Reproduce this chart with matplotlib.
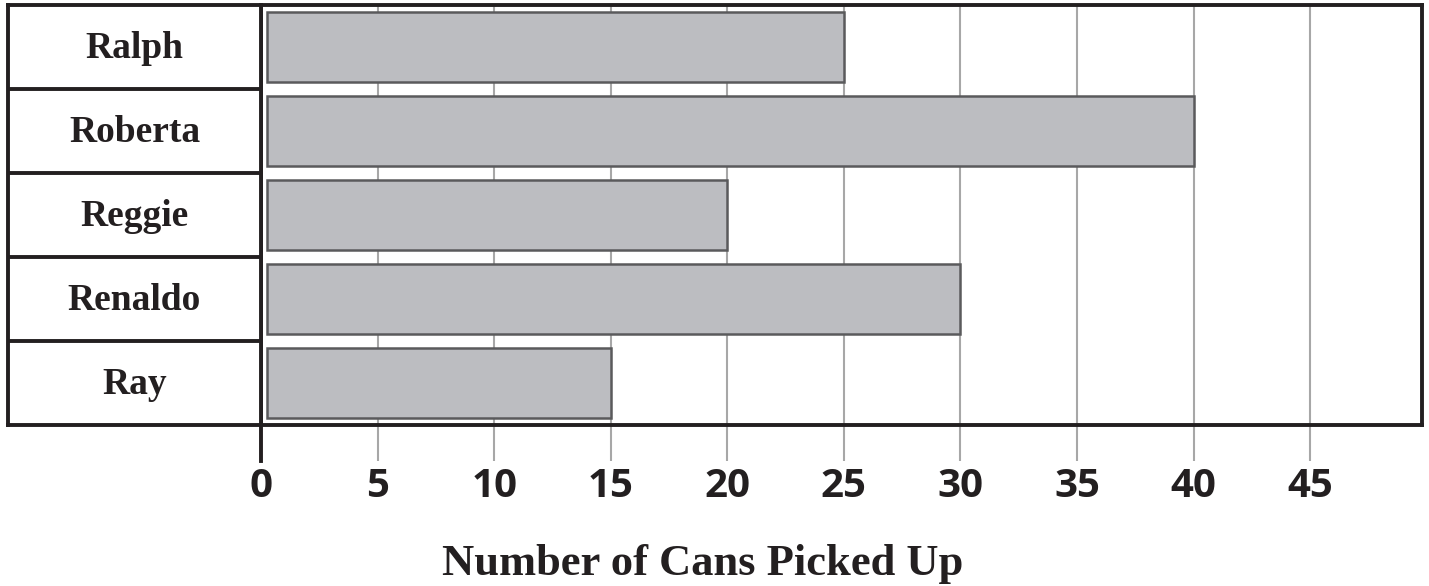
import numpy as np
from matplotlib import pyplot as plt

# cans picked up by each kid, top row first
names = ["Ralph", "Roberta", "Reggie", "Renaldo", "Ray"]
cans = [25, 40, 20, 30, 15]
ticks = [0, 5, 10, 15, 20, 25, 30, 35, 40, 45]
x_title = "Number of Cans Picked Up"

W, H = 1429, 586
INK = "#231f20"
BAR = "#bcbdc1"
GRID = "#a7a7a7"
BAR_GAP = 0.25  # bars start just right of the zero line
BAR_H = 0.83
TICK_LEN = 26  # points

fig = plt.figure(figsize=(W / 100, H / 100), dpi=100)

# right part with the bars
ax = fig.add_axes([261 / W, (H - 425) / H, (1422 - 261) / W, 420 / H])
# left column with the names
ax_names = fig.add_axes([8 / W, (H - 425) / H, (261 - 8) / W, 420 / H])

rows = np.arange(len(names))
ax.barh(rows, np.array(cans) - BAR_GAP, left=BAR_GAP, height=BAR_H,
        color=BAR, edgecolor="#5a5a5c", linewidth=1.8, zorder=3)
ax.set_ylim(len(names) - 0.5, -0.5)
ax.set_xlim(0, 49.8)
ax.set_yticks([])
ax.set_xticks(ticks)
ax.set_xticklabels([str(t) for t in ticks], fontfamily="Open Sans",
                   fontweight="bold", fontsize=29, color=INK)
ax.tick_params(axis="x", length=TICK_LEN, width=1.5, color=GRID, pad=4)
ax.grid(axis="x", color=GRID, linewidth=1.5, zorder=1)
for s in ax.spines.values():
    s.set_color(INK)
    s.set_linewidth(2.8)
    s.set_zorder(4)
# the zero line runs down through the frame like the ticks do
tick_frac = TICK_LEN * 100 / 72 / 420
ax.axvline(0, ymin=-tick_frac, ymax=1, color=INK, linewidth=2.8,
           clip_on=False, zorder=5)

ax_names.set_xlim(0, 1)
ax_names.set_ylim(len(names) - 0.5, -0.5)
ax_names.set_xticks([])
ax_names.set_yticks([])
for s in ax_names.spines.values():
    s.set_color(INK)
    s.set_linewidth(2.8)
for i in range(1, len(names)):
    ax_names.axhline(i - 0.5, color=INK, linewidth=2.8)
for i, n in enumerate(names):
    ax_names.text(0.5, i + 0.02, n, ha="center", va="center",
                  fontfamily="Liberation Serif", fontweight="bold",
                  fontsize=27, color=INK)

fig.text(703 / W, (H - 575) / H, x_title, ha="center", va="baseline",
         fontfamily="Liberation Serif", fontweight="bold", fontsize=32,
         color=INK)

fig.savefig("out.png", dpi=100)
